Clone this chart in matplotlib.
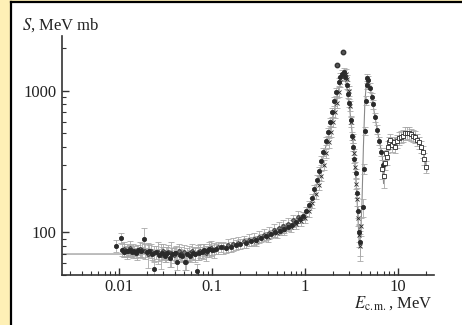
import matplotlib
matplotlib.use("Agg")
import matplotlib.pyplot as plt
from matplotlib.patches import Rectangle
from matplotlib.lines import Line2D

plt.rcParams['font.family'] = ['Liberation Serif', 'DejaVu Serif']
plt.rcParams['mathtext.fontset'] = 'stix'

# smooth (theory) curve
curve_e = [0.0025, 0.01, 0.02, 0.04, 0.07, 0.1, 0.2, 0.4, 0.6, 0.8, 1.0, 1.2, 1.4, 1.6,
           1.8, 2.0, 2.2, 2.4, 2.55, 2.7, 2.85, 3.0, 3.2, 3.4, 3.6, 3.75, 3.85, 3.95,
           4.1, 4.25, 4.4, 4.55, 4.7, 4.9, 5.2, 5.6, 6.0, 6.4, 6.8, 7.0, 7.2, 7.6, 8.2,
           9.0, 10, 11.5, 13, 15, 17, 19, 20.5]
curve_s = [70, 70, 70, 70, 71, 74, 82, 93, 104, 116, 133, 170, 240, 360,
           480, 650, 880, 1150, 1330, 1250, 1000, 780, 520, 340, 190, 110, 78, 90,
           160, 400, 800, 1100, 1230, 1150, 920, 680, 520, 420, 340, 220, 300, 380, 440,
           450, 470, 490, 500, 470, 420, 350, 270]

# data set 1 (filled circles)
e1 = [0.0094, 0.0104, 0.0108, 0.0113, 0.0118, 0.0124, 0.013, 0.0137, 0.0145, 0.0153,
      0.0162, 0.0172, 0.0186, 0.0198, 0.021, 0.0225, 0.0238, 0.025, 0.027, 0.029,
      0.031, 0.033, 0.035, 0.037, 0.04, 0.042, 0.045, 0.048, 0.051, 0.054,
      0.058, 0.062, 0.066, 0.069, 0.073, 0.078, 0.083, 0.088, 0.094, 0.1,
      0.11, 0.125, 0.14, 0.16, 0.18, 0.2, 0.23, 0.26, 0.3, 0.34, 0.38, 0.43, 0.48,
      0.54, 0.6, 0.66, 0.72, 0.8, 0.88, 0.95, 1.02, 1.1, 1.18, 1.26, 1.34, 1.42,
      1.5, 1.58, 1.67, 1.76, 1.86, 1.96, 2.07, 2.18, 2.3, 2.4, 2.5, 2.6,
      2.7, 2.8, 2.9, 3.0, 3.1, 3.2, 3.3, 3.4, 3.5, 3.6, 3.7, 3.8, 3.9,
      4.2, 4.3, 4.4, 4.5, 4.6, 4.7, 4.8, 5.0, 5.2, 5.4, 5.7, 6.0, 6.3, 6.6, 6.9]
s1 = [80, 91, 75, 72, 74, 73, 75, 72, 74, 71,
      75, 73, 89, 72, 74, 70, 55, 72, 69, 71,
      68, 71, 66, 70, 71, 61, 69, 68, 61, 70,
      68, 71, 70, 53, 71, 72, 75, 73, 76, 75,
      76, 78, 77, 79, 81, 83, 84, 86, 88, 91, 94, 97, 100,
      102, 106, 109, 113, 118, 124, 130, 140, 155, 175, 200, 235, 270,
      320, 370, 440, 510, 600, 700, 840, 980, 1150, 1250, 1310, 1350,
      1250, 1100, 950, 820, 620, 480, 400, 330, 260, 190, 140, 100, 85,
      150, 280, 520, 850, 1100, 1220, 1180, 1050, 900, 800, 650, 530, 440, 370, 300]
err1 = [10, 8, 9, 8, 8, 8, 8, 8, 8, 8,
        8, 8, 20, 8, 9, 9, 12, 10, 10, 10,
        10, 10, 14, 10, 10, 12, 10, 10, 12, 10,
        10, 10, 10, 12, 10, 9, 9, 9, 9, 8,
        8, 8, 8, 8, 8, 8, 8, 8, 7, 7, 7, 7, 7,
        7, 7, 7, 7, 7, 7, 7, 7, 7, 7, 7, 7, 7,
        7, 7, 7, 7, 7, 7, 7, 7, 7, 7, 7, 7,
        7, 7, 7, 7, 7, 7, 7, 7, 7, 8, 10, 15, 20,
        15, 8, 7, 7, 7, 7, 7, 7, 7, 7, 7, 7, 7, 7, 8]

# data set 2 (second trail, crosses)
e2 = [0.3, 0.4, 0.5, 0.6, 0.7, 0.8, 0.9, 1.0, 1.1, 1.2, 1.3, 1.4, 1.5, 1.6, 1.7, 1.8,
      1.9, 2.0, 2.1, 2.2, 2.3, 2.4, 2.65, 2.75, 2.85, 2.95, 3.05, 3.15, 3.25, 3.35,
      3.45, 3.55, 3.65, 3.75, 3.85, 3.95, 4.05]
s2 = [86, 93, 98, 104, 108, 114, 120, 126, 140, 160, 185, 215, 250, 300, 360, 430,
      510, 600, 700, 820, 980, 1150, 1300, 1320, 1200, 1000, 780, 600, 460, 360,
      290, 220, 170, 125, 95, 80, 110]
err2 = [8, 8, 8, 8, 8, 8, 8, 8, 8, 8, 8, 8, 8, 8, 8, 8,
        8, 8, 8, 8, 8, 8, 8, 8, 8, 8, 8, 8, 8, 8,
        8, 8, 10, 12, 18, 22, 15]

# data set 4 (open circles, low energy)
e4 = [0.0112, 0.0121, 0.0133, 0.0141, 0.0158, 0.0167, 0.0178, 0.0192, 0.0205, 0.022,
      0.024, 0.026, 0.028, 0.030, 0.032, 0.034, 0.036, 0.039, 0.041, 0.044,
      0.047, 0.050, 0.053, 0.057, 0.061, 0.065, 0.070, 0.075, 0.080, 0.086,
      0.092, 0.098, 0.105, 0.115, 0.13, 0.15, 0.17, 0.19, 0.22, 0.25,
      0.28, 0.32, 0.36, 0.41, 0.46, 0.52, 0.58, 0.65, 0.75, 0.85]
s4 = [76, 73, 77, 74, 72, 76, 75, 73, 70, 74,
      71, 72, 69, 73, 70, 72, 71, 69, 71, 73,
      70, 72, 61, 71, 73, 70, 72, 74, 73, 71,
      76, 77, 75, 78, 78, 81, 82, 84, 86, 88,
      90, 93, 96, 99, 103, 107, 110, 115, 121, 128]
err4 = [12, 12, 12, 12, 12, 12, 12, 12, 20, 12,
        12, 18, 20, 12, 12, 12, 20, 12, 12, 12,
        12, 12, 12, 12, 12, 12, 12, 12, 12, 12,
        12, 12, 12, 10, 10, 10, 10, 10, 10, 10,
        10, 10, 10, 10, 10, 10, 10, 10, 10, 10]

# outliers near the first peak
e_out = [2.22, 2.56]
s_out = [1517, 1880]

# data set 3 (open squares, high energy)
e3 = [6.8, 7.0, 7.2, 7.4, 7.6, 7.8, 8.0, 8.3, 8.6, 9.0, 9.4, 9.8, 10.3, 10.8, 11.3,
      11.9, 12.5, 13.1, 13.8, 14.5, 15.2, 16.0, 16.8, 17.6, 18.4, 19.2, 20.0]
s3 = [280, 250, 310, 360, 340, 400, 430, 450, 410, 430, 400, 440, 460, 470, 480,
      500, 505, 500, 490, 480, 470, 450, 430, 400, 370, 330, 290]
err3 = [15, 18, 12, 10, 12, 10, 10, 10, 10, 10, 10, 10, 10, 10, 10,
        10, 10, 10, 10, 10, 10, 10, 10, 10, 10, 10, 10]

xticks = [0.01, 0.1, 1, 10]
xticklabels = ['0.01', '0.1', '1', '10']
yticks = [100, 1000]
yticklabels = ['100', '1000']

fig = plt.figure(figsize=(4.62, 3.25), dpi=100)
fig.patch.set_facecolor('#fef0b6')
# white panel with black left/top border
fig.patches.append(Rectangle((12 / 462, 0), 1, 1 - 2 / 325, transform=fig.transFigure,
                             facecolor='white', edgecolor='none', zorder=-10))
fig.lines.append(Line2D([11 / 462, 11 / 462], [0, 1 - 1.5 / 325], transform=fig.transFigure,
                        color='black', lw=1.6, zorder=-5))
fig.lines.append(Line2D([11 / 462, 1], [1 - 1.5 / 325, 1 - 1.5 / 325], transform=fig.transFigure,
                        color='black', lw=1.6, zorder=-5))

ax = fig.add_axes([62 / 462, 50.3 / 325, 372 / 462, 238.7 / 325])
ax.set_facecolor('none')
ax.set_xscale('log')
ax.set_yscale('log')

ax.plot(curve_e, curve_s, color='#8a8a8a', lw=0.8, zorder=1)


def draw(e, s, err, marker, mfc, ms):
    yerr = [v * p / 100 for v, p in zip(s, err)]
    ax.errorbar(e, s, yerr=yerr, fmt=marker, ms=ms, mfc=mfc, mec='#2a2a2a', mew=0.6,
                ecolor='#a8a8a8', elinewidth=0.6, capsize=2.5, capthick=0.6, zorder=2)


draw(e4, s4, err4, 'o', '#777777', 2.6)
draw(e1, s1, err1, 'o', '#2a2a2a', 3.0)
draw(e2, s2, err2, 'x', '#2a2a2a', 2.8)
draw(e3, s3, err3, 's', 'white', 2.6)
ax.plot(e_out, s_out, 'o', ms=3.2, mfc='#555', mec='#333', zorder=3)

ax.set_xlim(0.00244, 24.4)
ax.set_ylim(50, 2430)

ax.spines['top'].set_visible(False)
ax.spines['right'].set_visible(False)
for sp in ('left', 'bottom'):
    ax.spines[sp].set_linewidth(1.2)
    ax.spines[sp].set_color('#333333')

ax.set_xticks(xticks)
ax.set_xticklabels(xticklabels)
ax.set_yticks(yticks)
ax.set_yticklabels(yticklabels)
ax.tick_params(which='both', direction='in', colors='#333333', labelcolor='#222222',
               labelsize=12)
ax.tick_params(which='major', length=5, width=1.0)
ax.tick_params(which='minor', length=3, width=0.8)
ax.tick_params(axis='x', pad=3)
ax.tick_params(axis='y', pad=4)

fig.text(22 / 462, 1 - 29.5 / 325, '$S$, MeV mb', fontsize=12, color='#222222',
         ha='left', va='baseline')
fig.text(433 / 462, 1 - 308 / 325, r'$E_{\mathrm{c.m.}}$, MeV', fontsize=12,
         color='#222222', ha='right', va='baseline')

fig.savefig('out.png', dpi=100, facecolor=fig.get_facecolor())
